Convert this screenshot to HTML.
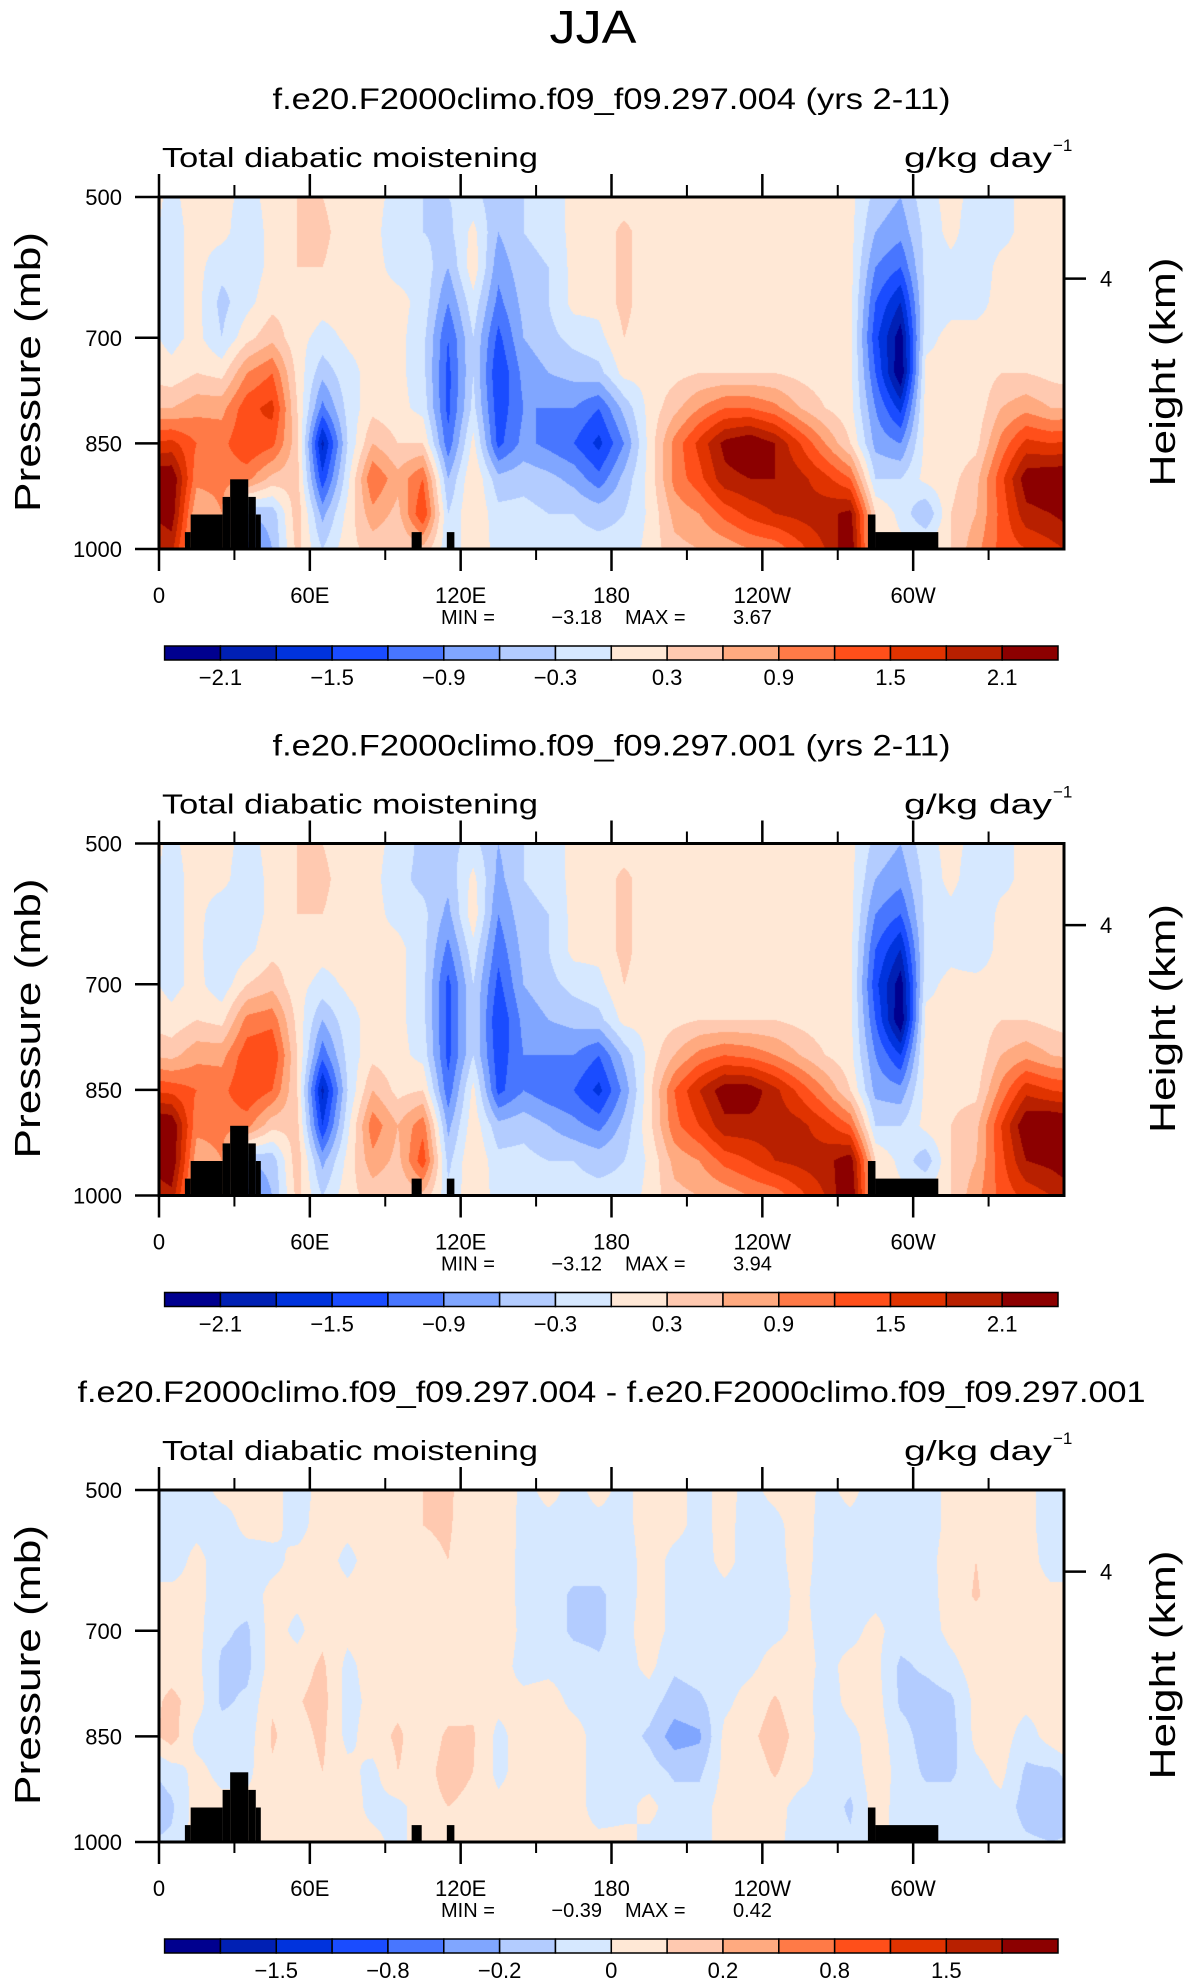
<!DOCTYPE html>
<html><head><meta charset="utf-8">
<style>
html,body{margin:0;padding:0;background:#fff;}
#wrap{position:relative;width:1186px;height:1987px;overflow:hidden;background:#fff;}
canvas{position:absolute;}
svg{position:absolute;left:0;top:0;}
text{font-family:"Liberation Sans",sans-serif;fill:#000;}
</style></head>
<body>
<div id="wrap">
<canvas id="c0" width="905" height="352"></canvas>
<canvas id="c1" width="905" height="352"></canvas>
<canvas id="c2" width="905" height="352"></canvas>
<svg id="ov" width="1186" height="1987"></svg>
</div>
<script>
// ---------- data ----------
const lonCenters = [5,15,25,35,45,55,65,75,85,95,105,115,125,135,145,155,165,175,185,195,205,215,225,235,245,255,265,275,285,295,305,315,325,335,345,355];
const pLevels = [500,550,600,650,700,750,800,850,900,950,1000];
const xTickLabels = ["0","60E","120E","180","120W","60W"];
const xTickLons = [0,60,120,180,240,300];
const xMinorLons = [30,90,150,210,270,330];
const yTickLabels = ["500","700","850","1000"];
const yTickValues = [500,700,850,1000];
const heightTickP = 616;
const heightTickLabel = "4";
const terrainLon0 = [10.3,12.6,25.3,28.3,35.5,38.5,100.5,114.5,282,285];
const terrainLon1 = [12.6,25.3,28.3,35.5,38.5,40.5,104.5,117.5,285,310];
const terrainTopP = [976,951,926,901,926,951,976,976,951,976];
const colors = ["#00008f","#0020b4","#0033dd","#1a4cff","#4876ff","#80a6ff","#b3ccff","#d6e8ff","#ffe8d6","#ffc9b0","#ffaa80","#ff7a47","#ff4f1a","#e03300","#b82000","#8c0000"];
const levelsFull = [-2.1,-1.8,-1.5,-1.2,-0.9,-0.6,-0.3,0,0.3,0.6,0.9,1.2,1.5,1.8,2.1];
const levelsDiff = [-2,-1.5,-1.2,-0.8,-0.5,-0.2,-0.1,0,0.1,0.2,0.5,0.8,1.2,1.5,2];
const cbLabelsFull = ["−2.1","−1.5","−0.9","−0.3","0.3","0.9","1.5","2.1"];
const cbLabelIdxFull = [1,3,5,7,9,11,13,15];
const cbLabelsDiff = ["−1.5","−0.8","−0.2","0","0.2","0.8","1.5"];
const cbLabelIdxDiff = [2,4,6,8,10,12,14];
const titles = ["f.e20.F2000climo.f09_f09.297.004 (yrs 2-11)","f.e20.F2000climo.f09_f09.297.001 (yrs 2-11)","f.e20.F2000climo.f09_f09.297.004 - f.e20.F2000climo.f09_f09.297.001"];
const minVals = ["−3.18","−3.12","−0.39"];
const maxVals = ["3.67","3.94","0.42"];

const field1 = [
[-0.05,-0.1,-0.1,-0.1,-0.1,0.1,0.6,1.6,2.4,2.3,1.9],
[0.1,0.1,0.1,0.1,0.1,0.3,0.8,1.2,1.0,0.6,0.5],
[0.1,0.1,-0.2,-0.4,-0.3,0.2,0.8,1.1,1.0,0.9,0.9],
[-0.1,-0.2,-0.2,-0.1,0.2,0.9,1.4,1.5,1.0,-0.6,-1.0],
[0.1,0.1,0.1,0.2,0.5,1.2,1.6,1.3,0.5,-0.5,-0.6],
[0.3,0.3,0.3,0.2,0.1,0.2,0.3,0.4,0.4,0.5,0.4],
[0.3,0.4,0.3,0.1,-0.1,-0.5,-1.0,-1.9,-1.4,-0.7,-0.3],
[0.1,0.1,0.1,0.1,0.05,-0.1,-0.2,-0.3,-0.1,0.1,0.2],
[0.1,0.1,0.1,0.1,0.1,0.1,0.2,0.6,1.2,0.8,0.4],
[-0.1,-0.2,-0.1,0.1,0.1,0.1,0.1,0.3,0.7,0.5,0.3],
[-0.3,-0.3,-0.1,-0.1,-0.2,-0.2,-0.1,0.3,1.2,1.5,0.5],
[-0.3,-0.4,-0.6,-0.9,-1.2,-1.3,-1.3,-1.1,-0.6,-0.3,-0.2],
[-0.2,0.1,0.2,-0.1,-0.3,-0.3,-0.2,0.1,0.3,0.3,0.2],
[-0.5,-0.6,-0.8,-1.0,-1.3,-1.5,-1.4,-1.3,-0.5,-0.2,-0.1],
[-0.3,-0.3,-0.4,-0.5,-0.6,-0.8,-0.9,-0.8,-0.4,-0.2,-0.1],
[-0.2,-0.2,-0.3,-0.3,-0.4,-0.6,-0.9,-1.0,-0.5,-0.3,-0.2],
[0.1,0.1,0.1,0.1,-0.2,-0.5,-0.9,-1.2,-0.7,-0.3,-0.2],
[0.1,0.1,0.1,0.1,-0.1,-0.4,-1.2,-1.6,-1.1,-0.4,-0.2],
[0.1,0.4,0.4,0.4,0.3,0.1,-0.5,-0.9,-0.5,-0.3,-0.2],
[0.1,0.1,0.1,0.1,0.1,0.1,0.1,0.1,0.1,0.05,0.1],
[0.1,0.1,0.1,0.1,0.1,0.2,0.5,1.0,1.0,0.7,0.5],
[0.1,0.1,0.1,0.1,0.1,0.3,0.9,1.6,1.4,0.9,0.6],
[0.1,0.1,0.1,0.1,0.1,0.3,1.2,2.2,2.0,1.3,0.7],
[0.1,0.1,0.1,0.1,0.1,0.3,1.2,2.4,2.1,1.6,0.9],
[0.1,0.1,0.1,0.1,0.1,0.3,1.0,2.1,2.1,1.8,1.0],
[0.1,0.1,0.1,0.1,0.1,0.2,0.6,1.5,1.9,1.9,1.4],
[0.1,0.1,0.1,0.1,0.1,0.1,0.3,0.9,1.6,2.0,1.8],
[0.1,0.1,0.1,0.1,0.1,0.1,0.1,0.3,1.2,2.2,2.4],
[-0.4,-0.6,-0.9,-1.2,-1.4,-1.2,-0.9,-0.7,-0.3,0.3,0.3],
[-0.6,-0.8,-1.2,-1.8,-2.3,-2.4,-1.6,-0.9,-0.3,-0.1,0.1],
[-0.1,-0.2,-0.2,-0.2,-0.1,0.1,0.1,0.1,0.1,-0.6,0.1],
[0.1,0.1,-0.1,-0.1,0.1,0.1,0.1,0.1,0.2,0.3,0.3],
[-0.1,-0.2,-0.2,-0.1,0.1,0.1,0.1,0.2,0.5,0.6,0.8],
[-0.1,-0.1,0.1,0.1,0.1,0.3,0.6,1.0,1.4,1.3,1.3],
[0.1,0.1,0.1,0.1,0.1,0.3,0.8,1.6,2.3,2.0,1.5],
[0.1,0.1,0.1,0.1,0.1,0.2,0.6,1.5,2.4,2.1,1.7]
];
const field2 = [
[-0.05,-0.1,-0.1,-0.1,-0.1,0.1,0.5,1.4,2.4,2.4,2.0],
[0.1,0.1,0.1,0.1,0.1,0.3,0.8,1.2,1.0,0.7,0.5],
[0.1,0.1,-0.2,-0.3,-0.2,0.2,0.8,1.1,1.0,0.9,0.9],
[-0.1,-0.2,-0.2,-0.1,0.3,1.0,1.4,1.5,1.0,-0.6,-1.0],
[0.1,0.1,0.1,0.2,0.5,1.1,1.5,1.2,0.4,-0.5,-0.6],
[0.3,0.3,0.3,0.2,0.1,0.2,0.3,0.3,0.4,0.5,0.4],
[0.3,0.4,0.3,0.1,-0.1,-0.6,-1.1,-1.9,-1.5,-0.7,-0.3],
[0.1,0.1,0.1,0.1,0.05,-0.1,-0.2,-0.3,-0.1,0.1,0.2],
[0.1,0.1,0.1,0.1,0.1,0.1,0.2,0.6,1.1,0.8,0.4],
[-0.1,-0.2,-0.1,0.1,0.1,0.1,0.1,0.2,0.6,0.5,0.3],
[-0.4,-0.4,-0.2,-0.2,-0.2,-0.2,-0.1,0.3,1.1,1.4,0.5],
[-0.4,-0.5,-0.7,-1.0,-1.3,-1.3,-1.3,-1.1,-0.7,-0.4,-0.2],
[-0.2,0.1,0.2,-0.1,-0.3,-0.3,-0.3,0.1,0.2,0.3,0.2],
[-0.6,-0.7,-0.9,-1.1,-1.3,-1.5,-1.4,-1.3,-0.5,-0.2,-0.1],
[-0.3,-0.3,-0.4,-0.5,-0.6,-0.8,-0.9,-0.9,-0.4,-0.2,-0.1],
[-0.2,-0.2,-0.3,-0.3,-0.4,-0.6,-0.9,-1.1,-0.6,-0.3,-0.2],
[0.1,0.1,0.1,0.1,-0.2,-0.5,-0.9,-1.2,-0.8,-0.3,-0.2],
[0.1,0.1,0.1,0.1,-0.1,-0.4,-1.2,-1.6,-1.0,-0.4,-0.2],
[0.1,0.4,0.4,0.4,0.3,0.1,-0.5,-0.8,-0.5,-0.3,-0.2],
[0.1,0.1,0.1,0.1,0.1,0.1,0.1,0.2,0.2,0.05,0.1],
[0.1,0.1,0.1,0.1,0.1,0.2,0.6,1.2,1.1,0.7,0.5],
[0.1,0.1,0.1,0.1,0.1,0.3,1.0,1.8,1.5,0.9,0.6],
[0.1,0.1,0.1,0.1,0.1,0.3,1.2,2.3,2.0,1.3,0.7],
[0.1,0.1,0.1,0.1,0.1,0.3,1.1,2.3,2.0,1.5,0.9],
[0.1,0.1,0.1,0.1,0.1,0.3,0.9,1.9,2.0,1.8,1.0],
[0.1,0.1,0.1,0.1,0.1,0.2,0.6,1.4,1.9,1.9,1.4],
[0.1,0.1,0.1,0.1,0.1,0.1,0.3,0.9,1.6,2.0,1.8],
[0.1,0.1,0.1,0.1,0.1,0.1,0.1,0.3,1.2,2.3,2.5],
[-0.4,-0.6,-0.9,-1.2,-1.4,-1.2,-0.9,-0.7,-0.3,0.3,0.3],
[-0.6,-0.8,-1.2,-1.8,-2.3,-2.4,-1.5,-0.8,-0.3,-0.1,0.1],
[-0.1,-0.2,-0.2,-0.2,-0.1,0.1,0.1,0.1,0.1,-0.5,0.1],
[0.1,0.1,-0.1,-0.1,0.1,0.1,0.1,0.2,0.3,0.3,0.3],
[-0.1,-0.2,-0.3,-0.2,0.1,0.1,0.1,0.2,0.5,0.6,0.8],
[-0.1,-0.1,0.1,0.1,0.1,0.3,0.6,1.0,1.5,1.4,1.3],
[0.1,0.1,0.1,0.1,0.1,0.3,0.8,1.7,2.4,2.1,1.6],
[0.1,0.1,0.1,0.1,0.1,0.2,0.6,1.5,2.5,2.2,1.8]
];
const field3 = [
[-0.05,-0.05,-0.05,0.03,0.03,0.05,0.13,0.15,-0.05,-0.12,-0.08],
[-0.05,-0.03,0.03,0.03,0.03,0.03,0.05,-0.03,0.03,0.05,0.05],
[0.03,-0.05,-0.05,-0.05,-0.08,-0.12,-0.12,-0.05,-0.03,0.03,0.03],
[0.03,0.03,-0.05,-0.05,-0.12,-0.13,-0.08,-0.05,-0.03,0.03,0.03],
[0.03,0.03,-0.03,0.03,0.05,0.05,0.09,0.11,0.09,0.05,0.03],
[-0.04,-0.04,0.03,0.03,-0.03,0.05,0.09,0.06,0.05,0.03,0.03],
[0.03,0.05,0.05,0.05,0.07,0.12,0.14,0.12,0.1,0.06,0.03],
[0.04,0.03,-0.03,0.03,0.03,-0.03,-0.04,-0.03,0.03,0.05,0.03],
[0.05,0.05,0.05,0.05,0.05,0.05,0.03,0.05,-0.03,-0.03,0.03],
[0.05,0.05,0.03,0.03,0.05,0.05,0.07,0.12,0.1,-0.03,-0.03],
[0.1,0.1,0.08,0.1,0.07,0.05,0.05,0.03,0.05,0.05,0.05],
[0.12,0.11,0.1,0.1,0.08,0.05,0.05,0.12,0.15,0.1,0.05],
[0.03,0.05,0.05,0.05,0.05,0.05,0.08,0.11,0.1,0.07,0.03],
[0.08,0.1,0.1,0.1,0.08,0.05,0.03,-0.03,-0.03,0.03,0.05],
[-0.03,-0.04,-0.05,-0.05,-0.03,-0.04,0.03,0.05,0.05,0.05,0.03],
[0.03,-0.03,-0.04,-0.05,-0.05,-0.03,0.05,0.05,0.09,0.08,0.05],
[-0.03,-0.03,-0.05,-0.12,-0.12,-0.05,-0.03,0.05,0.1,0.05,0.03],
[0.03,-0.03,-0.05,-0.12,-0.13,-0.08,-0.05,-0.05,-0.1,-0.05,0.03],
[-0.03,-0.03,-0.05,-0.05,-0.03,-0.04,-0.05,-0.05,-0.03,-0.03,0.03],
[0.05,0.05,0.05,0.05,0.05,0.03,-0.05,-0.12,-0.05,0.03,-0.03],
[0.03,0.03,-0.03,-0.03,-0.03,-0.08,-0.15,-0.25,-0.12,-0.05,-0.05],
[-0.03,-0.03,-0.04,-0.05,-0.05,-0.05,-0.12,-0.22,-0.12,-0.05,-0.03],
[0.03,0.03,0.03,-0.03,-0.05,-0.05,-0.03,0.03,0.03,0.05,0.03],
[-0.03,-0.04,-0.04,-0.05,-0.05,-0.03,0.05,0.08,0.05,0.05,0.05],
[0.03,-0.03,-0.04,-0.05,-0.03,0.05,0.11,0.14,0.11,0.05,0.03],
[0.05,0.05,0.05,0.03,0.03,0.05,0.05,0.07,0.05,-0.05,-0.05],
[-0.03,-0.04,-0.05,-0.05,-0.03,-0.03,-0.05,-0.05,-0.05,-0.04,-0.03],
[0.03,-0.03,-0.03,-0.04,-0.03,0.03,0.03,-0.03,-0.05,-0.12,-0.08],
[-0.05,-0.05,-0.04,-0.03,0.03,0.03,0.05,0.05,0.05,0.05,0.03],
[-0.03,-0.05,-0.05,-0.04,-0.05,-0.12,-0.12,-0.05,-0.03,-0.04,-0.03],
[-0.05,-0.05,-0.04,-0.05,-0.05,-0.08,-0.15,-0.15,-0.12,-0.05,-0.03],
[0.03,0.03,0.05,0.05,0.03,-0.03,-0.12,-0.14,-0.12,-0.05,-0.03],
[0.05,0.05,0.1,0.11,0.05,0.05,0.03,0.03,-0.03,-0.03,-0.03],
[0.05,0.05,0.05,0.05,0.05,0.05,0.05,0.05,0.03,-0.03,-0.03],
[0.03,0.03,0.05,0.05,0.05,0.03,0.03,-0.05,-0.12,-0.15,-0.08],
[-0.05,-0.05,-0.05,0.03,0.03,0.03,0.05,0.05,-0.12,-0.18,-0.1]
];

// ---------- layout ----------
const PL = 159, PR = 1064, PW = PR - PL, PH = 352;
const panelTops = [197, 843.5, 1490];
const fields = [field1, field2, field3];
const levelSets = [levelsFull, levelsFull, levelsDiff];
const cbLabelSets = [cbLabelsFull, cbLabelsFull, cbLabelsDiff];
const cbIdxSets = [cbLabelIdxFull, cbLabelIdxFull, cbLabelIdxDiff];
const xOf = lon => PL + lon / 360 * PW;
const yOf = (p, T) => T + (p - 500) / 500 * PH;
const NS = "http://www.w3.org/2000/svg";
const svg = document.getElementById('ov');
function mk(tag, attrs, parent) {
  const e = document.createElementNS(NS, tag);
  for (const k in attrs) e.setAttribute(k, attrs[k]);
  (parent || svg).appendChild(e);
  return e;
}
function hex(c){return [parseInt(c.substr(1,2),16),parseInt(c.substr(3,2),16),parseInt(c.substr(5,2),16)];}
const rgb = colors.map(hex);

function sample(F, lon, p) {
  const nC = lonCenters.length;
  let fi = (lon - lonCenters[0]) / 10;
  let i0 = Math.floor(fi), t = fi - i0;
  i0 = ((i0 % nC) + nC) % nC;
  const i1 = (i0 + 1) % nC;
  let fj = (p - pLevels[0]) / 50;
  fj = Math.max(0, Math.min(pLevels.length - 1.0001, fj));
  const j0 = Math.floor(fj), u = fj - j0;
  const a = F[i0][j0] * (1 - u) + F[i0][j0 + 1] * u;
  const b = F[i1][j0] * (1 - u) + F[i1][j0 + 1] * u;
  return a * (1 - t) + b * t;
}

const jja = mk('text', {x: 593, y: 43, 'font-size': 46, 'text-anchor': 'middle', textLength: 87, lengthAdjust: 'spacingAndGlyphs'});
jja.textContent = 'JJA';



panelTops.forEach((T, k) => {
  const cv = document.getElementById('c' + k);
  cv.style.left = PL + 'px'; cv.style.top = T + 'px';
  const ctx = cv.getContext('2d');
  const img = ctx.createImageData(PW, PH);
  const lv = levelSets[k], F = fields[k];
  for (let y = 0; y < PH; y++) {
    const p = 500 + (y + 0.5) / PH * 500;
    for (let x = 0; x < PW; x++) {
      const lon = (x + 0.5) / PW * 360;
      const v = sample(F, lon, p);
      let idx = 0;
      while (idx < lv.length && v >= lv[idx]) idx++;
      const c = rgb[idx], o = (y * PW + x) * 4;
      img.data[o] = c[0]; img.data[o+1] = c[1]; img.data[o+2] = c[2]; img.data[o+3] = 255;
    }
  }
  ctx.putImageData(img, 0, 0);

  const g = mk('g', {});
  
  

  terrainLon0.forEach((l0, i) => {
    const r = mk('rect', {x: xOf(l0), y: yOf(terrainTopP[i], T), width: xOf(terrainLon1[i]) - xOf(l0), height: yOf(1000, T) - yOf(terrainTopP[i], T), fill: '#000'}, g);
    
    
  });

  const fr = mk('rect', {x: PL, y: T, width: PW, height: PH, fill: 'none', stroke: '#000', 'stroke-width': 3}, g);
  
  

  xTickLons.forEach((lon, i) => {
    const x = xOf(lon);
    mk('line', {x1: x, x2: x, y1: T - 23, y2: T, stroke: '#000', 'stroke-width': 2.5}, g);
    mk('line', {x1: x, x2: x, y1: T + PH, y2: T + PH + 22, stroke: '#000', 'stroke-width': 2.5}, g);
    const t = mk('text', {x: x, y: T + 406, 'font-size': 22, 'text-anchor': 'middle'}, g);
    t.textContent = xTickLabels[i];
    
    
  });
  xMinorLons.forEach(lon => {
    const x = xOf(lon);
    mk('line', {x1: x, x2: x, y1: T - 12, y2: T, stroke: '#000', 'stroke-width': 2}, g);
    mk('line', {x1: x, x2: x, y1: T + PH, y2: T + PH + 11, stroke: '#000', 'stroke-width': 2}, g);
  });
  yTickValues.forEach((p, i) => {
    const y = yOf(p, T);
    mk('line', {x1: PL - 24, x2: PL, y1: y, y2: y, stroke: '#000', 'stroke-width': 2.5}, g);
    const t = mk('text', {x: 122, y: y + 8, 'font-size': 22, 'text-anchor': 'end'}, g);
    t.textContent = yTickLabels[i];
    
    
  });
  const hy = yOf(heightTickP, T);
  mk('line', {x1: PR, x2: PR + 22, y1: hy, y2: hy, stroke: '#000', 'stroke-width': 2.5}, g);
  const ht = mk('text', {x: 1100, y: hy + 8, 'font-size': 22}, g);
  ht.textContent = heightTickLabel;
  
  

  const yc = T + 175;
  const pt = mk('text', {x: 0, y: 0, 'font-size': 36, 'text-anchor': 'middle', textLength: 280, lengthAdjust: 'spacingAndGlyphs', transform: `translate(40,${yc}) rotate(-90)`}, g);
  pt.textContent = 'Pressure (mb)';
  
  
  const hgt = mk('text', {x: 0, y: 0, 'font-size': 36, 'text-anchor': 'middle', textLength: 229, lengthAdjust: 'spacingAndGlyphs', transform: `translate(1175,${yc}) rotate(-90)`}, g);
  hgt.textContent = 'Height (km)';
  
  

  const tt = mk('text', {x: 611.5, y: T - 88, 'font-size': 30, 'text-anchor': 'middle', textLength: k === 2 ? 1068 : 678, lengthAdjust: 'spacingAndGlyphs'}, g);
  tt.textContent = titles[k];
  
  
  const st = mk('text', {x: 162, y: T - 30, 'font-size': 28, textLength: 376, lengthAdjust: 'spacingAndGlyphs'}, g);
  st.textContent = 'Total diabatic moistening';
  
  
  const ut = mk('text', {x: 904, y: T - 30, 'font-size': 28, textLength: 148, lengthAdjust: 'spacingAndGlyphs'}, g);
  ut.textContent = 'g/kg day';
  
  
  const us = mk('text', {x: 1053, y: T - 46, 'font-size': 17}, g);
  us.textContent = '−1';
  
  

  const mm = [['MIN =', 441, 'start'], [minVals[k], 602, 'end'], ['MAX =', 625, 'start'], [maxVals[k], 733, 'start']];
  mm.forEach(m => {
    const t = mk('text', {x: m[1], y: T + 427, 'font-size': 20, 'text-anchor': m[2]}, g);
    t.textContent = m[0];
    
    
  });

  const cbL = 164.6, cbW = (1058 - 164.6) / colors.length, cbT = T + 449;
  colors.forEach((c, i) => {
    const r = mk('rect', {x: cbL + i * cbW, y: cbT, width: cbW, height: 14, fill: c, stroke: '#000', 'stroke-width': 1.5}, g);
    
    
  });
  cbLabelSets[k].forEach((lab, i) => {
    const t = mk('text', {x: cbL + cbIdxSets[k][i] * cbW, y: T + 488, 'font-size': 22, 'text-anchor': 'middle'}, g);
    t.textContent = lab;
    
    
  });
});
</script>
</body></html>
